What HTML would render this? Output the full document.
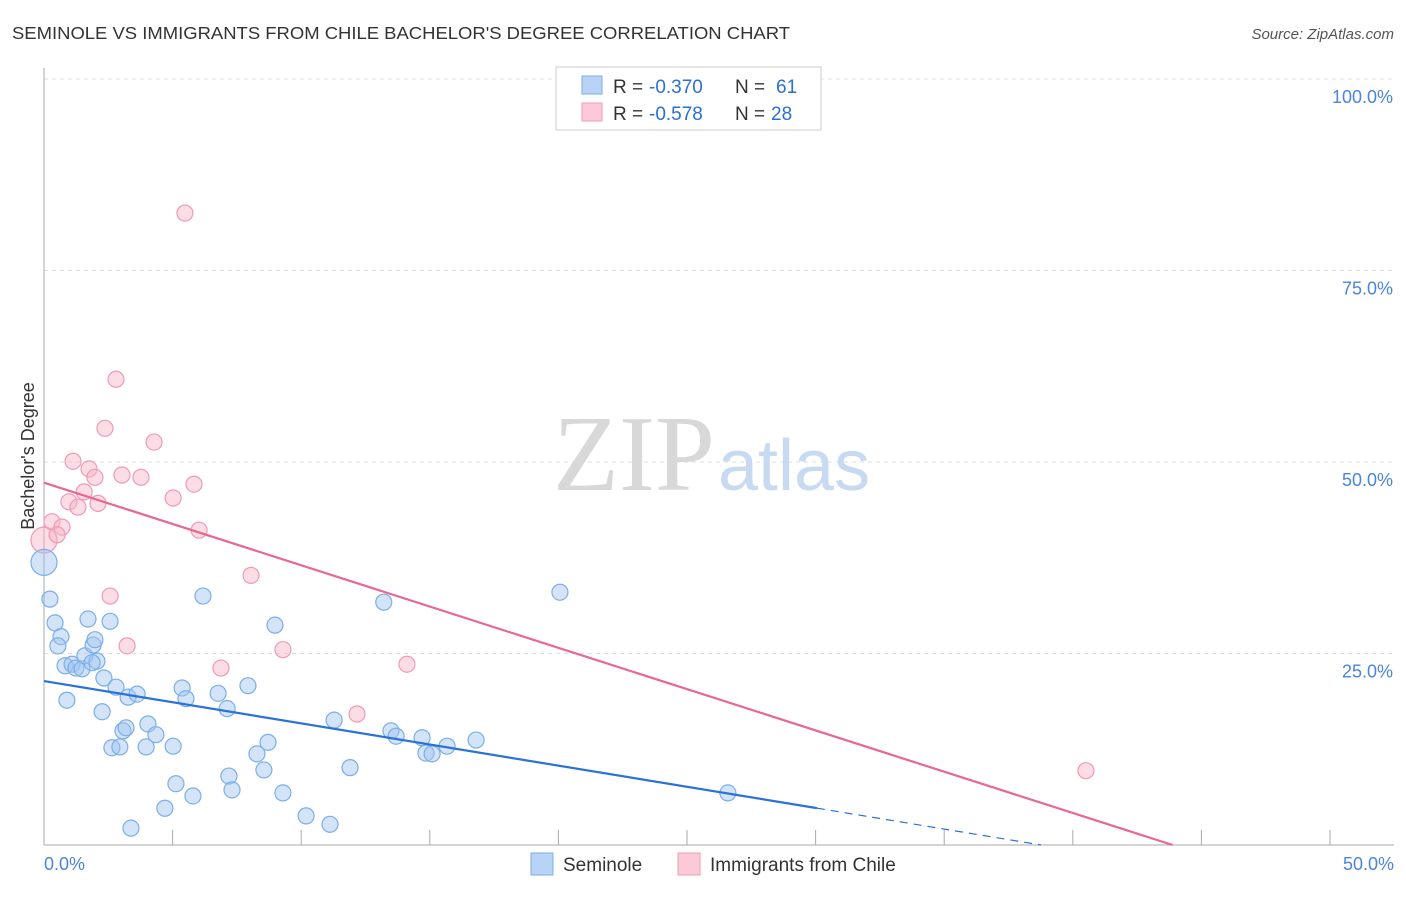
<!DOCTYPE html>
<html><head><meta charset="utf-8"><style>
body{margin:0;background:#fff;font-family:"Liberation Sans",sans-serif}
</style></head><body>
<svg width="1406" height="892" viewBox="0 0 1406 892" xmlns="http://www.w3.org/2000/svg">
<text x="12" y="39" font-size="17.5" fill="#333" textLength="778" lengthAdjust="spacingAndGlyphs">SEMINOLE VS IMMIGRANTS FROM CHILE BACHELOR'S DEGREE CORRELATION CHART</text>
<text x="1394" y="39" font-size="15" fill="#555" font-style="italic" text-anchor="end">Source: ZipAtlas.com</text>
<g id="grid"></g>
<text x="715" y="490" font-size="108" font-family="Liberation Serif,serif" fill="#d8d8d8" text-anchor="end">ZIP</text>
<text x="718" y="490" font-size="72" fill="#c8daf2">atlas</text>
<g id="marks"></g>
<text transform="translate(34,456) rotate(-90)" font-size="18" fill="#333" text-anchor="middle">Bachelor's Degree</text>
<g>
<rect x="556" y="67" width="265" height="63" fill="#fff" stroke="#ccc"/>
<rect x="582" y="76" width="20" height="18" fill="#b8d3f5" stroke="#7aaee8"/>
<rect x="582" y="103" width="20" height="18" fill="#fbc9d7" stroke="#f09ab5"/>
<text x="613" y="93" font-size="19" fill="#333">R =</text>
<text x="649" y="93" font-size="19" fill="#2a6fd6">-0.370</text>
<text x="735" y="93" font-size="19" fill="#333">N =</text>
<text x="776" y="93" font-size="19" fill="#2a6fd6">61</text>
<text x="613" y="120" font-size="19" fill="#333">R =</text>
<text x="649" y="120" font-size="19" fill="#2a6fd6">-0.578</text>
<text x="735" y="120" font-size="19" fill="#333">N =</text>
<text x="771" y="120" font-size="19" fill="#2a6fd6">28</text>
</g>
<g>
<rect x="531" y="853" width="22" height="22" fill="#b8d3f5" stroke="#7aaee8"/>
<text x="563" y="871" font-size="19" fill="#333">Seminole</text>
<rect x="678" y="853" width="22" height="22" fill="#fbc9d7" stroke="#f09ab5"/>
<text x="710" y="871" font-size="19" fill="#333">Immigrants from Chile</text>
</g>
</svg>
<script>
const xTicks=[0,5,10,15,20,25,30,35,40,45,50];
const yTicks=[25,50,75,100];
const yTickLabels=["25.0%","50.0%","75.0%","100.0%"];
const blueX=[0,0.23,0.43,0.66,0.54,0.82,1.09,1.24,1.48,1.59,1.91,1.98,2.06,1.71,2.57,0.89,2.33,2.26,2.80,3.27,3.62,2.64,2.95,3.07,3.19,4.04,4.35,3.97,5.02,5.37,5.52,6.18,6.77,7.12,7.93,8.28,8.71,8.55,7.19,7.31,8.98,9.29,10.19,11.12,11.28,11.90,13.21,13.49,13.69,14.70,14.85,15.09,15.67,16.80,20.06,26.59,5.13,5.79,4.70,3.38,1.87];
const blueY=[36.9,32.1,29.0,27.2,26.0,23.4,23.6,23.1,23.0,24.7,26.1,26.8,24.0,29.5,29.2,18.9,21.8,17.4,20.6,19.3,19.7,12.7,12.8,14.9,15.3,15.8,14.4,12.8,12.9,20.5,19.1,32.5,19.8,17.8,20.8,11.9,13.4,9.8,9.0,7.2,28.7,6.8,3.8,2.7,16.3,10.1,31.7,14.9,14.2,14.0,12.0,11.9,12.9,13.7,33.0,6.8,8.0,6.4,4.8,2.2,23.8];
const pinkX=[0,0.31,0.70,0.51,1.13,0.97,1.32,1.56,1.75,1.98,2.10,2.37,2.80,3.03,3.77,4.28,5.02,5.83,6.03,5.48,2.57,3.23,6.88,8.05,9.29,12.17,14.11,40.51];
const pinkY=[39.8,42.2,41.5,40.5,50.1,44.8,44.1,46.1,49.1,48.0,44.6,54.4,60.8,48.3,48.0,52.6,45.3,47.1,41.1,82.5,32.5,26.0,23.1,35.2,25.5,17.1,23.6,9.7];
const blueTrend=[21.4,-0.552]; const blueSolidEnd=30.05;
const pinkTrend=[47.3,-1.078];
const NS="http://www.w3.org/2000/svg";
const X=v=>44+v/50*1286, Y=v=>845-v/100*766;
function mk(t,a,p){const e=document.createElementNS(NS,t);for(const k in a)e.setAttribute(k,a[k]);p.appendChild(e);return e;}
const grid=document.getElementById('grid'), marks=document.getElementById('marks');
yTicks.forEach((t,i)=>{
 const l=mk('line',{x1:44,x2:1394,y1:Y(t),y2:Y(t),stroke:'#ddd','stroke-dasharray':'4 4'},grid);
 
 
 const tx=mk('text',{x:1393,y:Y(t)+24,'font-size':18,fill:'#4a84dc','text-anchor':'end'},grid);
 tx.textContent=yTickLabels[i];
 
 
});
const ax=mk('line',{x1:44,x2:44,y1:68,y2:845,stroke:'#aaa'},grid);


const bx=mk('line',{x1:44,x2:1394,y1:845,y2:845,stroke:'#aaa'},grid);


xTicks.forEach(t=>{const l=mk('line',{x1:X(t),x2:X(t),y1:830,y2:845,stroke:'#aaa'},grid);
 
 });
[[0,"0.0%",'start',44],[50,"50.0%",'end',1394]].forEach(d=>{const t=mk('text',{x:d[3],y:870,'font-size':18,fill:'#4a84dc','text-anchor':d[2]},grid);t.textContent=d[1];
 
 });
function pts(xs,ys,fill,stroke,name){xs.forEach((x,i)=>{const c=mk('circle',{cx:X(x),cy:Y(ys[i]),r:i==0?13:8,fill:fill,stroke:stroke,'stroke-width':1.2},marks);
 
 });}
pts(pinkX,pinkY,'rgba(248,180,200,0.45)','#f09ab5','chile-point');
pts(blueX,blueY,'rgba(160,196,240,0.45)','#7aaee8','seminole-point');
const bz=-blueTrend[0]/blueTrend[1];
let l=mk('line',{x1:X(0),y1:Y(blueTrend[0]),x2:X(blueSolidEnd),y2:Y(blueTrend[0]+blueTrend[1]*blueSolidEnd),stroke:'#2a72d8','stroke-width':2.2},marks);


l=mk('line',{x1:X(blueSolidEnd),y1:Y(blueTrend[0]+blueTrend[1]*blueSolidEnd),x2:X(bz),y2:Y(0),stroke:'#2a72d8','stroke-width':1.2,'stroke-dasharray':'8 6'},marks);


const pz=-pinkTrend[0]/pinkTrend[1];
l=mk('line',{x1:X(0),y1:Y(pinkTrend[0]),x2:X(pz),y2:Y(0),stroke:'#e8688f','stroke-width':2.2},marks);


</script>
</body></html>
